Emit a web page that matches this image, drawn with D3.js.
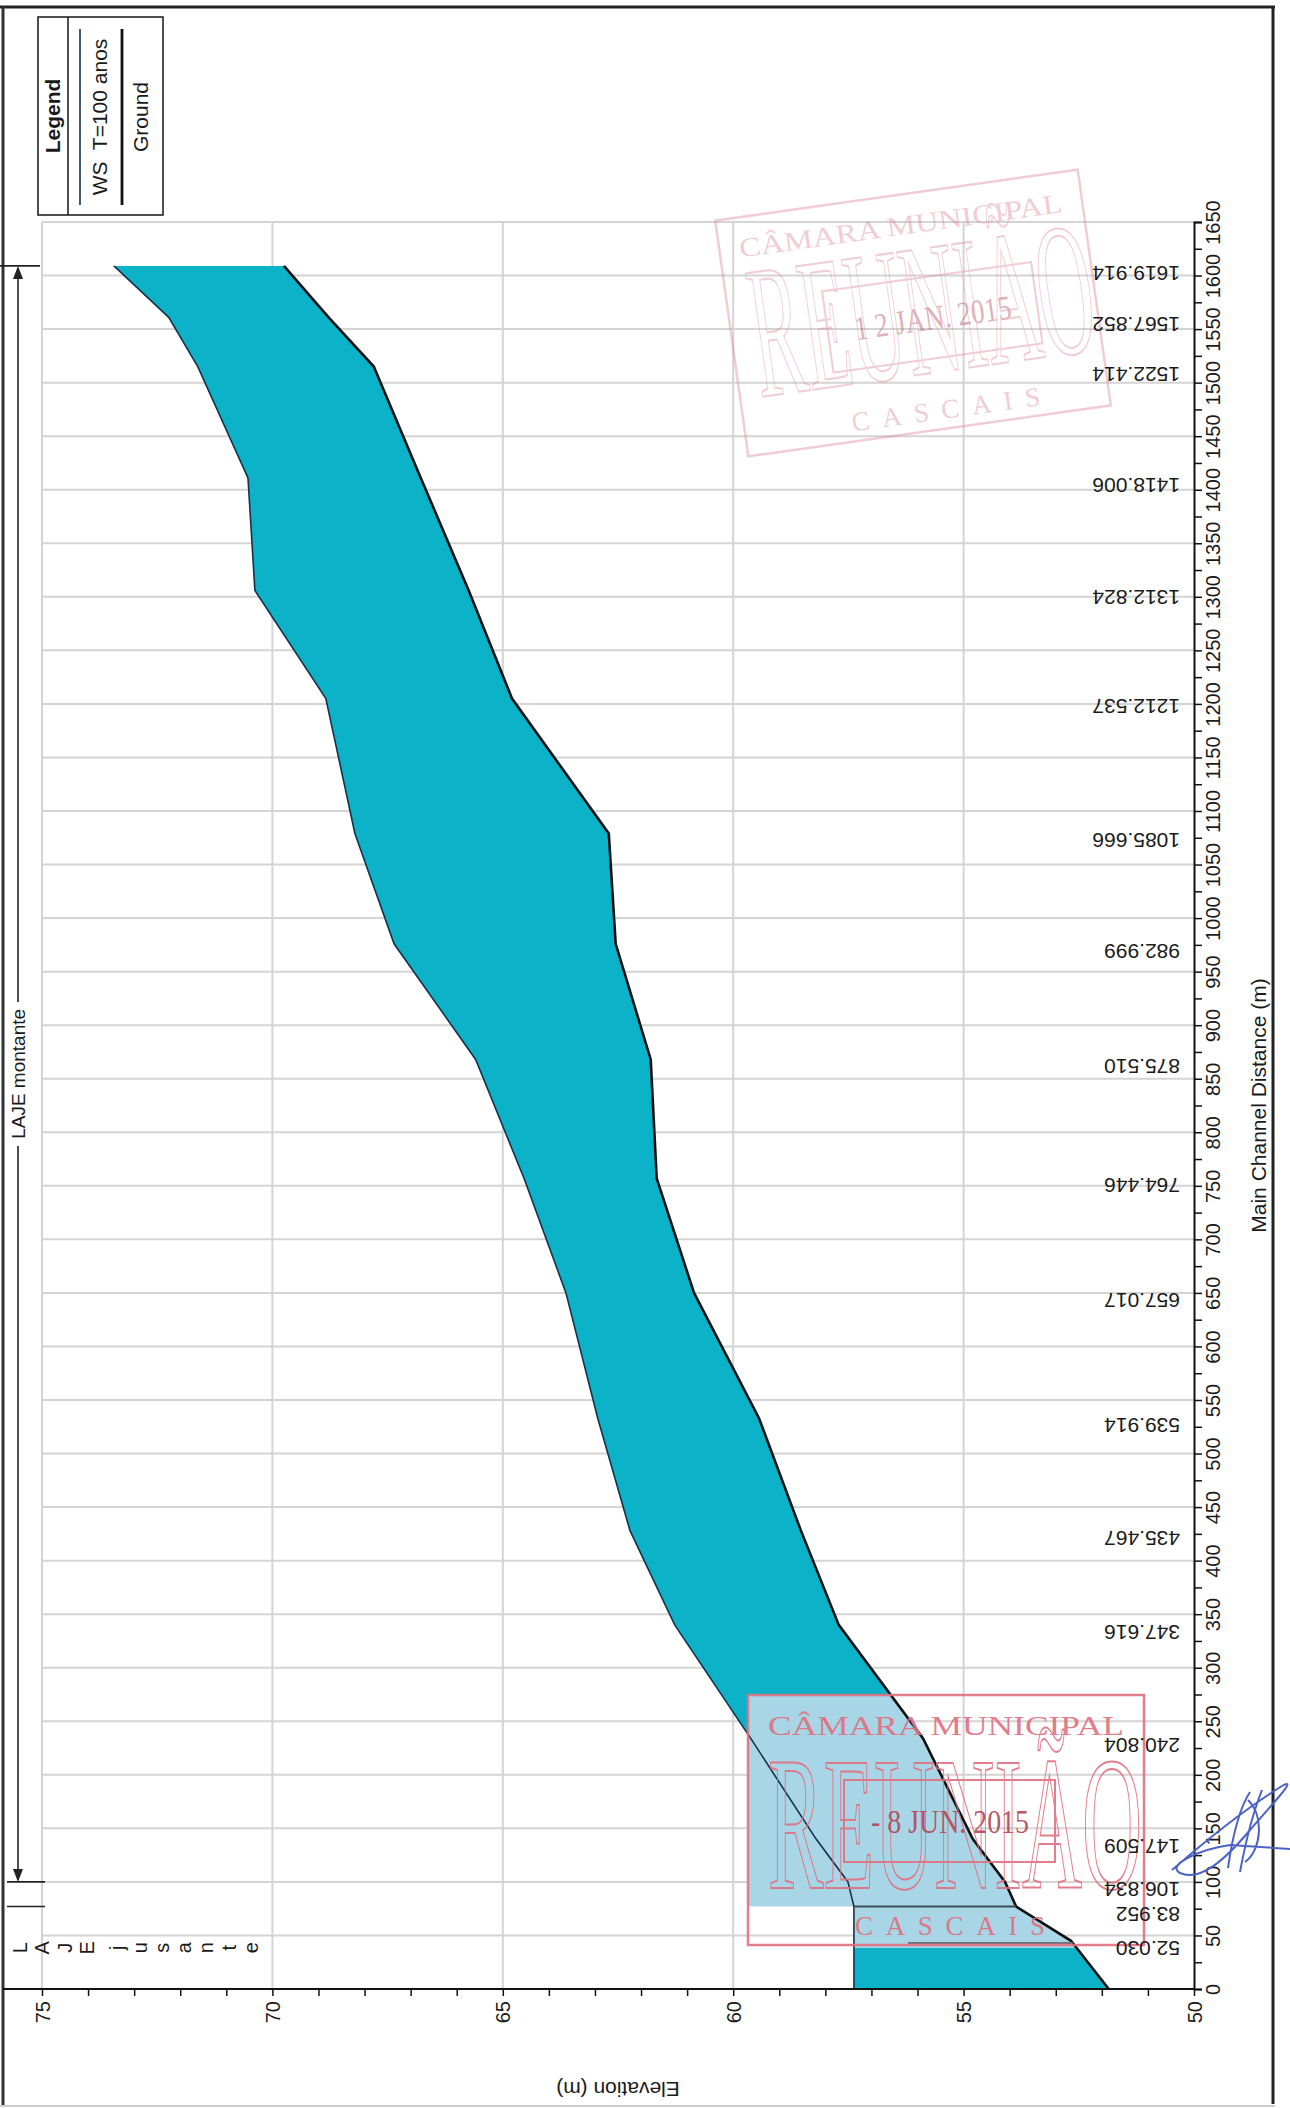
<!DOCTYPE html>
<html>
<head>
<meta charset="utf-8">
<script src="https://cdn.jsdelivr.net/npm/d3@7"></script>
<style>
body { margin: 0; background: #fff; }
svg text { font-family: "Liberation Sans", Arial, sans-serif; fill: #1a1a1a; }
.stamp text { font-family: "Liberation Serif", "DejaVu Serif", serif; }
</style>
</head>
<body>
<div id="chart"></div>
<script>
// cross sections: main channel distance (m)
const sectionDist = [0, 45, 77, 100, 140, 234, 340, 428, 533, 650, 757, 868, 976, 1079, 1205, 1306, 1411, 1515, 1561, 1609];
// river station names printed next to each section
const stationLabels = ["", "52.030", "83.952", "106.834", "147.509", "240.804", "347.616", "435.467", "539.914", "657.017",
	"764.446", "875.510", "982.999", "1085.666", "1212.537", "1312.824", "1418.006", "1522.414", "1567.852", "1619.914"];
// water surface, T=100 anos (m)
const wsElev = [57.38, 57.38, 57.38, 57.51, 58.20, 59.62, 61.27, 62.24, 62.94, 63.63, 64.54, 65.59, 67.36, 68.21, 68.84, 70.38, 70.53, 71.62, 72.25, 73.44];
// channel ground (m)
const groundElev = [51.85, 52.67, 53.86, 54.10, 54.80, 55.88, 57.71, 58.53, 59.44, 60.85, 61.66, 61.79, 62.55, 62.70, 64.80, 65.74, 66.78, 67.80, 68.78, 69.75];

const elevLabels = [50, 55, 60, 65, 70, 75];
const distLabels = d3.range(0, 1651, 50);
const legendItems = ["WS  T=100 anos", "Ground"];
const reachNames = ["LAJE montante", "LAJE jusante"];

const W = 1290, H = 2109;
const teal = "#0cb2c8";

// the plot is printed turned a quarter turn: distance runs up, elevation runs left
const x = d3.scaleLinear().domain([50, 75]).range([1194, 42]);
const y = d3.scaleLinear().domain([0, 1650]).range([1989, 222]);

const sections = sectionDist.map(function (d, i) {
	return {dist: d, ws: wsElev[i], ground: groundElev[i], label: stationLabels[i]};
});

const svg = d3.select("#chart").append("svg")
	.attr("width", W)
	.attr("height", H)
	.style("background", "#fff");

// page frame
svg.append("line").attr("x1", 0).attr("x2", 1275).attr("y1", 7).attr("y2", 7)
	.attr("stroke", "#222").attr("stroke-width", 3);
svg.append("line").attr("x1", 1273).attr("x2", 1273).attr("y1", 7).attr("y2", 2104)
	.attr("stroke", "#222").attr("stroke-width", 3);
svg.append("line").attr("x1", 3).attr("x2", 3).attr("y1", 7).attr("y2", 2106)
	.attr("stroke", "#333").attr("stroke-width", 3);
svg.append("line").attr("x1", 0).attr("x2", 1275).attr("y1", 2106).attr("y2", 2106)
	.attr("stroke", "#ccc").attr("stroke-width", 2);

// grid
const grid = svg.append("g");
grid.selectAll("line.h")
	.data(distLabels.filter(d => d > 0))
	.enter().append("line")
	.attr("class", "h")
	.attr("x1", x(75)).attr("x2", x(50))
	.attr("y1", d => y(d)).attr("y2", d => y(d))
	.attr("stroke", "#d4d4d4").attr("stroke-width", 2);
grid.selectAll("line.v")
	.data(elevLabels.filter(d => d > 50))
	.enter().append("line")
	.attr("class", "v")
	.attr("x1", d => x(d)).attr("x2", d => x(d))
	.attr("y1", y(1650)).attr("y2", y(0))
	.attr("stroke", "#d4d4d4").attr("stroke-width", 2);

// water between ground and WS
const area = d3.area()
	.y(d => y(d.dist))
	.x0(d => x(d.ground))
	.x1(d => x(d.ws));
svg.append("path")
	.datum(sections)
	.attr("d", area)
	.attr("fill", teal);

// ground value at any distance, used for the washed-out stamp patch
function groundAt(d) {
	var i = Math.max(0, Math.min(sectionDist.length - 2, d3.bisectRight(sectionDist, d) - 1));
	var t = (d - sectionDist[i]) / (sectionDist[i + 1] - sectionDist[i]);
	return groundElev[i] + t * (groundElev[i + 1] - groundElev[i]);
}

// light patch left by the lower stamp
const stampBox = {x0: 748, x1: 1144, y0: 1695, y1: 1945};
const dTop = y.invert(stampBox.y0), dStep = sectionDist[2], dLow = y.invert(1948);
var patch = [[stampBox.x0, y(dTop)], [stampBox.x0, y(dStep)], [x(wsElev[2]), y(dStep)], [x(wsElev[0]), y(dLow)]];
var gd = [dLow].concat(sectionDist.filter(d => d > dLow && d < dTop)).concat([dTop]);
gd.forEach(function (d) { patch.push([x(groundAt(d)), y(d)]); });
svg.append("path")
	.attr("d", "M" + patch.map(p => p.join(",")).join("L") + "Z")
	.attr("fill", "#a9d6e6");

// profile lines
svg.append("path")
	.datum(sections)
	.attr("d", d3.line().x(d => x(d.ws)).y(d => y(d.dist)))
	.attr("fill", "none").attr("stroke", "#16324a").attr("stroke-width", 1.6);
svg.append("path")
	.datum(sections)
	.attr("d", d3.line().x(d => x(d.ground)).y(d => y(d.dist)))
	.attr("fill", "none").attr("stroke", "#111").attr("stroke-width", 2.6);
svg.append("line")
	.attr("x1", x(wsElev[2])).attr("x2", x(groundElev[2]))
	.attr("y1", y(dStep)).attr("y2", y(dStep))
	.attr("stroke", "#3c4a58").attr("stroke-width", 2);
svg.append("line")
	.attr("x1", 908).attr("x2", x(groundAt(y.invert(1943))))
	.attr("y1", 1943).attr("y2", 1943)
	.attr("stroke", "#6b7280").attr("stroke-width", 2);

// stamps
function drawStamp(cx, cy, w, h, angle, date, ink, op) {
	var g = svg.append("g")
		.attr("class", "stamp")
		.attr("transform", "translate(" + cx + "," + cy + ") rotate(" + angle + ")")
		.attr("opacity", op);
	g.append("rect")
		.attr("x", -w / 2).attr("y", -h / 2).attr("width", w).attr("height", h)
		.attr("fill", "none").attr("stroke", ink).attr("stroke-width", 2.5);
	g.append("text")
		.attr("x", -w / 2 + 20).attr("y", -h / 2 + 40)
		.attr("textLength", w - 40).attr("lengthAdjust", "spacingAndGlyphs")
		.style("font-size", "27px").style("fill", ink)
		.text("CÂMARA MUNICIPAL");
	g.append("text")
		.attr("x", -w / 2 + 20).attr("y", h / 2 - 57)
		.attr("textLength", w - 22).attr("lengthAdjust", "spacingAndGlyphs")
		.style("font-size", "190px").style("fill", "none")
		.style("stroke", ink).style("stroke-width", 2)
		.text("REUNIÃO");
	g.append("rect")
		.attr("x", -w / 2 + 96).attr("y", -h / 2 + 85).attr("width", 211).attr("height", 82)
		.attr("fill", "none").attr("stroke", ink).attr("stroke-width", 2);
	g.append("text")
		.attr("x", -w / 2 + 202).attr("y", -h / 2 + 138)
		.attr("text-anchor", "middle")
		.attr("textLength", 158).attr("lengthAdjust", "spacingAndGlyphs")
		.style("font-size", "34px").style("fill", "#b44657")
		.text(date);
	g.append("text")
		.attr("x", -w / 2 + 107).attr("y", h / 2 - 10)
		.attr("textLength", 190).attr("lengthAdjust", "spacing")
		.style("font-size", "27px").style("fill", ink)
		.text("CASCAIS");
}
drawStamp(913, 313, 366, 238, -8, "1 2 JAN. 2015", "#dc8a99", 0.42);
drawStamp((stampBox.x0 + stampBox.x1) / 2, (stampBox.y0 + stampBox.y1) / 2,
	stampBox.x1 - stampBox.x0, stampBox.y1 - stampBox.y0, 0, "- 8 JUN. 2015", "#e0707f", 0.9);

// river station labels
svg.append("g").selectAll("text")
	.data(sections.filter(d => d.label))
	.enter().append("text")
	.attr("transform", d => "translate(1180," + y(d.dist) + ") rotate(180)")
	.style("font-size", "21px")
	.text(d => d.label);

// distance axis (right)
const distAxis = d3.axisRight(y)
	.tickValues(d3.range(0, 1651, 25))
	.tickSize(8)
	.tickFormat(d => distLabels.indexOf(d) >= 0 ? d : "");
svg.append("g")
	.attr("transform", "translate(" + x(50) + ",0)")
	.call(distAxis)
	.call(g => g.select(".domain").attr("stroke", "#111").attr("stroke-width", 2))
	.call(g => g.selectAll(".tick line").attr("stroke", "#111").attr("stroke-width", 1.5))
	.call(g => g.selectAll(".tick text")
		.attr("x", null).attr("dy", null)
		.attr("transform", "translate(19,0) rotate(-90)")
		.attr("text-anchor", "middle")
		.attr("dominant-baseline", "central")
		.style("font-size", "20px").style("fill", "#1a1a1a")
		.style("font-family", "Liberation Sans, Arial, sans-serif"));

// elevation axis (bottom)
const elevAxis = d3.axisBottom(x)
	.tickValues(d3.range(50, 75.5, 1))
	.tickSize(7)
	.tickFormat(d => elevLabels.indexOf(d) >= 0 ? d : "");
svg.append("g")
	.attr("transform", "translate(0," + y(0) + ")")
	.call(elevAxis)
	.call(g => g.select(".domain").remove())
	.call(g => g.selectAll(".tick line").attr("stroke", "#111").attr("stroke-width", 1.5))
	.call(g => g.selectAll(".tick text")
		.attr("y", null).attr("dy", null)
		.attr("transform", "translate(0,12) rotate(-90)")
		.attr("text-anchor", "end")
		.attr("dominant-baseline", "central")
		.style("font-size", "20px").style("fill", "#1a1a1a")
		.style("font-family", "Liberation Sans, Arial, sans-serif"));
svg.append("line")
	.attr("x1", 3).attr("x2", x(50)).attr("y1", y(0)).attr("y2", y(0))
	.attr("stroke", "#111").attr("stroke-width", 2);

// axis titles
svg.append("text")
	.attr("transform", "translate(1258," + (y(0) + y(1650)) / 2 + ") rotate(-90)")
	.attr("text-anchor", "middle").attr("dominant-baseline", "central")
	.style("font-size", "21px")
	.text("Main Channel Distance (m)");
svg.append("text")
	.attr("transform", "translate(" + (x(50) + x(75)) / 2 + ",2089) rotate(180)")
	.attr("text-anchor", "middle").attr("dominant-baseline", "central")
	.style("font-size", "21px")
	.text("Elevation (m)");

// legend
const legend = svg.append("g");
legend.append("rect")
	.attr("x", 38).attr("y", 17).attr("width", 125).attr("height", 198)
	.attr("fill", "#fff").attr("stroke", "#222").attr("stroke-width", 1.6);
legend.append("line").attr("x1", 68).attr("x2", 68).attr("y1", 17).attr("y2", 215)
	.attr("stroke", "#222").attr("stroke-width", 1.6);
legend.append("text")
	.attr("transform", "translate(52,116) rotate(-90)")
	.attr("text-anchor", "middle").attr("dominant-baseline", "central")
	.style("font-size", "21px").style("font-weight", "bold")
	.text("Legend");
legend.append("line").attr("x1", 80).attr("x2", 80).attr("y1", 29).attr("y2", 205)
	.attr("stroke", "#16324a").attr("stroke-width", 1.6);
legend.append("line").attr("x1", 122).attr("x2", 122).attr("y1", 29).attr("y2", 205)
	.attr("stroke", "#111").attr("stroke-width", 2.8);
legend.selectAll("text.item")
	.data(legendItems)
	.enter().append("text")
	.attr("class", "item")
	.attr("transform", (d, i) => "translate(" + (99 + i * 41) + ",117) rotate(-90)")
	.attr("text-anchor", "middle").attr("dominant-baseline", "central")
	.style("font-size", "21px")
	.style("white-space", "pre")
	.text(d => d);

// reach annotations on the left
const ann = svg.append("g");
const yUp = y(sectionDist[19]), yDown = y(sectionDist[3]), yJus = y(sectionDist[2]);
const yMid = (yUp + yDown) / 2;
ann.append("line").attr("x1", 0).attr("x2", 40).attr("y1", yUp).attr("y2", yUp)
	.attr("stroke", "#222").attr("stroke-width", 1.6);
ann.append("line").attr("x1", 7).attr("x2", 45).attr("y1", yDown).attr("y2", yDown)
	.attr("stroke", "#222").attr("stroke-width", 1.6);
ann.append("line").attr("x1", 7).attr("x2", 45).attr("y1", yJus).attr("y2", yJus)
	.attr("stroke", "#222").attr("stroke-width", 1.6);
ann.append("line").attr("x1", 18).attr("x2", 18).attr("y1", yUp + 2).attr("y2", yMid - 72)
	.attr("stroke", "#222").attr("stroke-width", 1.6);
ann.append("line").attr("x1", 18).attr("x2", 18).attr("y1", yMid + 72).attr("y2", yDown - 2)
	.attr("stroke", "#222").attr("stroke-width", 1.6);
ann.append("path")
	.attr("d", "M18," + yUp + "l-5,13h10z M18," + yDown + "l-5,-13h10z")
	.attr("fill", "#222");
ann.append("text")
	.attr("transform", "translate(18," + yMid + ") rotate(-90)")
	.attr("text-anchor", "middle").attr("dominant-baseline", "central")
	.style("font-size", "19px")
	.text(reachNames[0]);
// downstream reach name is printed one letter at a time
ann.selectAll("text.stack")
	.data(reachNames[1].replace(" ", "").split(""))
	.enter().append("text")
	.attr("class", "stack")
	.attr("transform", (d, i) => "translate(" + (20 + i * 22.3 + (i > 3 ? 8 : 0)) + "," + (yJus + y(0)) / 2 + ") rotate(-90)")
	.attr("text-anchor", "middle").attr("dominant-baseline", "central")
	.style("font-size", "20px")
	.text(d => d);

// signature
svg.append("path")
	.attr("d", "M1172,1870 C1195,1850 1240,1812 1282,1786 C1298,1777 1276,1800 1250,1830 C1225,1860 1200,1882 1180,1873 C1166,1866 1196,1850 1230,1845 L1290,1849" +
		" M1228,1868 C1232,1840 1238,1810 1250,1792 M1240,1872 C1245,1845 1252,1815 1262,1790 M1248,1800 C1264,1815 1262,1850 1245,1862")
	.attr("fill", "none").attr("stroke", "#4c62c4").attr("stroke-width", 2);
</script>
</body>
</html>
